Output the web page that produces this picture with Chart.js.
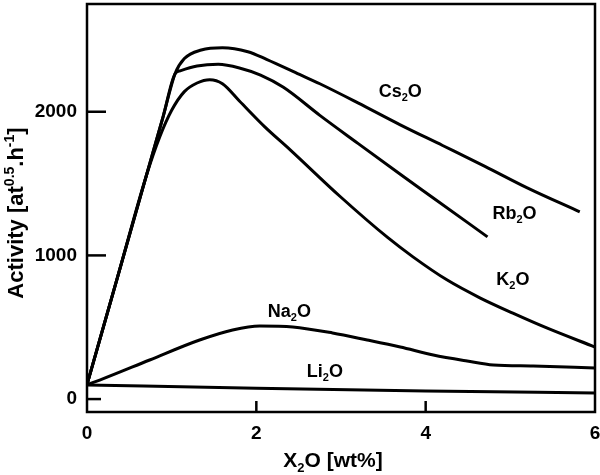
<!DOCTYPE html>
<html>
<head>
<meta charset="utf-8">
<script src="https://cdn.jsdelivr.net/npm/chart.js@4/dist/chart.umd.min.js"></script>
<style>
  html, body { margin: 0; padding: 0; background: #fff; }
  #wrap { width: 600px; height: 475px; position: relative; }
</style>
</head>
<body>
<div id="wrap"><canvas id="chart" width="600" height="475"></canvas></div>
<script>
// Activity vs alkali oxide content
const csX = [0, 0.35, 0.7, 0.9, 1.04, 1.15, 1.35, 1.6, 1.9, 2.12, 2.51, 2.75, 3.2, 3.7, 4.2, 4.7, 5.2, 5.82];
const csY = [100, 826, 1553, 1968, 2265, 2370, 2430, 2446, 2418, 2365, 2260, 2195, 2062, 1909, 1765, 1620, 1470, 1303];

const rbX = [0, 0.35, 0.7, 0.9, 1.04, 1.1, 1.3, 1.55, 1.8, 2.05, 2.32, 2.75, 3.2, 3.7, 4.09, 4.73];
const rbY = [100, 826, 1553, 1968, 2265, 2285, 2318, 2330, 2305, 2255, 2170, 1975, 1780, 1565, 1400, 1129];

const kX = [0, 0.35, 0.7, 0.86, 1.0, 1.15, 1.3, 1.45, 1.6, 1.8, 2.1, 2.4, 2.99, 3.55, 3.85, 4.25, 4.64, 5.03, 5.43, 6];
const kY = [100, 826, 1553, 1826, 2010, 2140, 2200, 2223, 2195, 2075, 1895, 1735, 1410, 1125, 990, 830, 705, 598, 495, 362];

const naX = [0, 0.15, 0.74, 1.33, 1.72, 2.04, 2.43, 2.9, 3.31, 3.7, 4.09, 4.49, 4.8, 5.27, 6];
const naY = [100, 132, 272, 411, 481, 509, 502, 460, 411, 362, 307, 265, 237, 230, 216];

const liX = [0, 2, 4, 6];
const liY = [98, 75, 57, 42];

const xTicks = [0, 2, 4, 6];
const yTicks = [0, 1000, 2000];

// curve labels, split round the subscript 2; positions are the text baseline
const labelText = [['Cs', '2', 'O'], ['Rb', '2', 'O'], ['K', '2', 'O'], ['Na', '2', 'O'], ['Li', '2', 'O']];
const labelX = [3.7, 5.05, 5.03, 2.39, 2.81];
const labelY = [2105, 1254, 794, 571, 153];

const FONT = '"Liberation Sans", Arial, sans-serif';

const toPts = (xs, ys) => xs.map((x, i) => ({ x: x, y: ys[i] }));

const series = (data) => ({
    data: data,
    borderColor: '#000',
    borderWidth: 3,
    pointRadius: 0,
    showLine: true,
    fill: false,
    cubicInterpolationMode: 'monotone'
});

// draws a string made of runs; each run is [text, shift] where a non-zero shift means a smaller, shifted run
function drawRich(ctx, parts, x, y, size, align) {
    const small = Math.round(size * 0.62);
    let w = 0;
    parts.forEach(p => {
        ctx.font = `bold ${p[1] ? small : size}px ${FONT}`;
        w += ctx.measureText(p[0]).width;
    });
    let cx = align === 'center' ? x - w / 2 : x;
    ctx.textBaseline = 'alphabetic';
    ctx.textAlign = 'left';
    parts.forEach(p => {
        ctx.font = `bold ${p[1] ? small : size}px ${FONT}`;
        ctx.fillText(p[0], cx, y + p[1] * size);
        cx += ctx.measureText(p[0]).width;
    });
}

const decor = {
    id: 'decor',
    afterDatasetsDraw(chart) {
        const { ctx, chartArea: a, scales: { x, y } } = chart;
        ctx.save();
        ctx.strokeStyle = '#000';
        ctx.fillStyle = '#000';
        // frame
        ctx.lineWidth = 2.5;
        ctx.strokeRect(a.left, a.top, a.right - a.left, a.bottom - a.top);
        // inward ticks
        yTicks.forEach(v => {
            const py = y.getPixelForValue(v);
            ctx.beginPath();
            ctx.moveTo(a.left, py);
            ctx.lineTo(a.left + (v === 0 ? 14 : 19), py);
            ctx.stroke();
        });
        xTicks.forEach(v => {
            if (v === 0 || v === 6) return;
            const px = x.getPixelForValue(v);
            ctx.beginPath();
            ctx.moveTo(px, a.bottom);
            ctx.lineTo(px, a.bottom - 11);
            ctx.stroke();
        });
        // curve labels
        labelText.forEach((t, i) => {
            const px = x.getPixelForValue(labelX[i]);
            const py = y.getPixelForValue(labelY[i]);
            drawRich(ctx, [[t[0], 0], [t[1], 0.22], [t[2], 0]], px, py, 18, 'center');
        });
        // axis titles
        drawRich(ctx, [['X', 0], ['2', 0.22], ['O [wt%]', 0]], 333, 467, 21, 'center');
        ctx.translate(23, 213);
        ctx.rotate(-Math.PI / 2);
        drawRich(ctx, [['Activity [at', 0], ['0.5', -0.4], ['.h', 0], ['-1', -0.4], [']', 0]], 0, 0, 22, 'center');
        ctx.restore();
    }
};

new Chart(document.getElementById('chart'), {
    type: 'scatter',
    data: {
        datasets: [
            series(toPts(csX, csY)),
            series(toPts(rbX, rbY)),
            series(toPts(kX, kY)),
            series(toPts(naX, naY)),
            series(toPts(liX, liY))
        ]
    },
    options: {
        responsive: false,
        animation: false,
        layout: { padding: { top: 4, right: 5, left: 0, bottom: 0 } },
        plugins: { legend: { display: false }, tooltip: { enabled: false } },
        scales: {
            x: {
                type: 'linear',
                min: 0,
                max: 6,
                afterBuildTicks: s => { s.ticks = xTicks.map(v => ({ value: v })); },
                afterFit: s => { s.height = 63; s.paddingLeft = 0; s.paddingRight = 0; },
                grid: { display: false, drawTicks: false },
                border: { display: false },
                ticks: {
                    color: '#000', padding: 10,
                    callback: v => String(v),
                    font: { family: FONT, size: 19, weight: 'bold' }
                }
            },
            y: {
                type: 'linear',
                min: -90,
                max: 2750,
                afterBuildTicks: s => { s.ticks = yTicks.map(v => ({ value: v })); },
                afterFit: s => { s.width = 87; s.paddingTop = 0; s.paddingBottom = 0; },
                grid: { display: false, drawTicks: false },
                border: { display: false },
                ticks: {
                    color: '#000', padding: 10,
                    callback: v => String(v),
                    font: { family: FONT, size: 19, weight: 'bold' }
                }
            }
        }
    },
    plugins: [decor]
});
</script>
</body>
</html>
